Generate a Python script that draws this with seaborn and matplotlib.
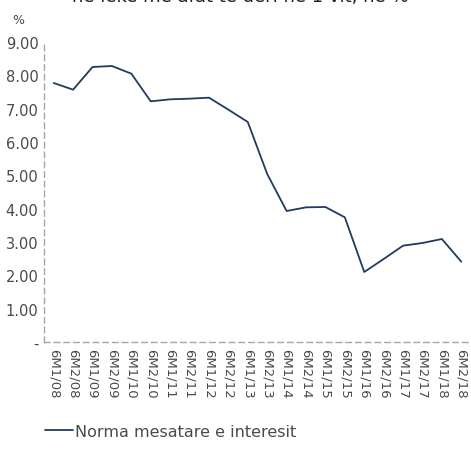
import numpy as np
import pandas as pd
import matplotlib
matplotlib.use("Agg")
import matplotlib.pyplot as plt
import seaborn as sns

# half-year periods and average interest rate (%)
periods = [
    "6M1/08", "6M2/08", "6M1/09", "6M2/09", "6M1/10", "6M2/10",
    "6M1/11", "6M2/11", "6M1/12", "6M2/12", "6M1/13", "6M2/13",
    "6M1/14", "6M2/14", "6M1/15", "6M2/15", "6M1/16", "6M2/16",
    "6M1/17", "6M2/17", "6M1/18", "6M2/18",
]
rate = [
    7.77, 7.57, 8.25, 8.28, 8.05, 7.22,
    7.28, 7.30, 7.33, 6.97, 6.60, 5.04,
    3.93, 4.04, 4.05, 3.74, 2.10, 2.49,
    2.89, 2.97, 3.09, 2.41,
]
yticks = [0, 1, 2, 3, 4, 5, 6, 7, 8, 9]
series_name = "Norma mesatare e interesit"

LINE_COLOR = "#1f3b5e"
AXIS_COLOR = "#a6a6a6"
TEXT_COLOR = "#4a4a4a"

sns.set_style("white")
plt.rcParams["font.family"] = ["DejaVu Sans"]

df = pd.DataFrame({"x": np.arange(len(periods)) + 0.5, "rate": rate})

fig = plt.figure(figsize=(4.71, 4.56), dpi=100)
ax = fig.add_axes([44 / 471, 113 / 456, 427 / 471, 300 / 456])

sns.lineplot(data=df, x="x", y="rate", ax=ax, color=LINE_COLOR,
             linewidth=1.3, label=series_name)

ax.set_xlim(0, len(periods))
ax.set_ylim(0, 9)
ax.set_yticks(yticks)
ax.set_yticklabels(["-" if v == 0 else f"{v:.2f}" for v in yticks],
                   fontsize=10.5, color=TEXT_COLOR)
ax.set_xticks(np.arange(len(periods)) + 0.5)
ax.set_xticklabels(periods, rotation=270, fontsize=9.5, color=TEXT_COLOR)
ax.set_xticks(np.arange(len(periods) + 1), minor=True)
ax.tick_params(axis="x", which="major", length=0, pad=4)
ax.tick_params(axis="x", which="minor", length=4, color=AXIS_COLOR, width=1)
ax.tick_params(axis="y", length=3, color=AXIS_COLOR, width=1, pad=1)
ax.set_xlabel("")
ax.set_ylabel("")

for side in ["top", "right"]:
    ax.spines[side].set_visible(False)
for side in ["left", "bottom"]:
    ax.spines[side].set_color(AXIS_COLOR)
    ax.spines[side].set_linestyle((0, (4, 3)))
    ax.spines[side].set_linewidth(1)

fig.text(18 / 471, 1 - 20 / 456, "%", fontsize=9, color=TEXT_COLOR,
         va="center", ha="center")
# title clipped at the top edge of the image, as in the source
fig.text(0.51, 1 + 3.5 / 456, "në lekë me afat të deri në 1 vit, në %",
         fontsize=13, color="#222222", ha="center", va="center")

ax.legend(loc="center", bbox_to_anchor=(0.297, -0.297), frameon=False,
          fontsize=11.5, handlelength=1.75, handletextpad=0.1,
          labelcolor=TEXT_COLOR)

fig.savefig("out.png", dpi=100)
